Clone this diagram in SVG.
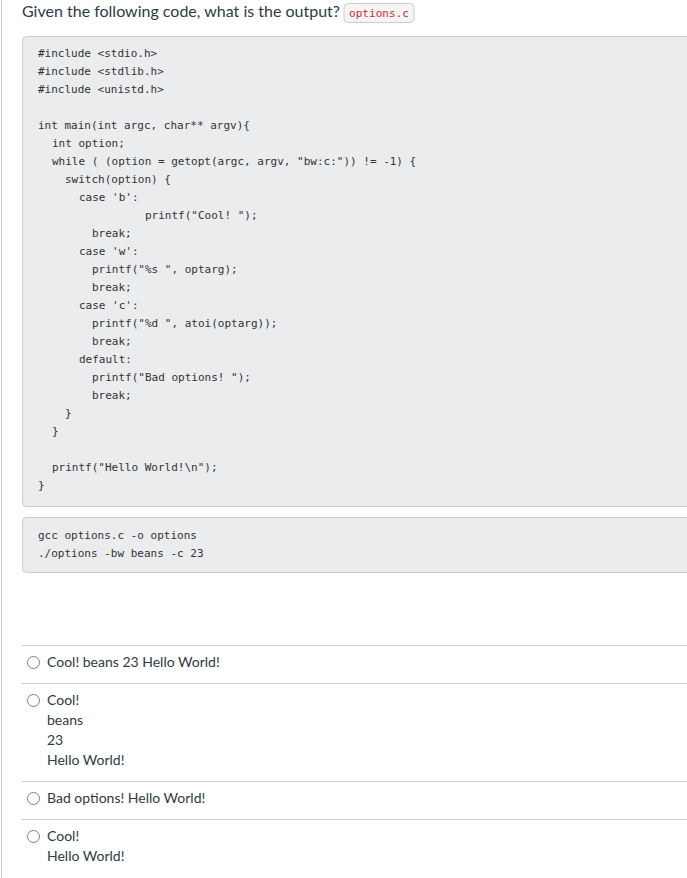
<svg xmlns="http://www.w3.org/2000/svg" width="687" height="878" viewBox="0 0 687 878">
<style>
.t{font-family:Lato,"Open Sans",sans-serif;fill:#2d3b45}
.c{font-family:"DejaVu Sans Mono","Liberation Mono",monospace;font-size:11px;fill:#333}
.box{fill:#ebeced;stroke:#c7cdd1;stroke-width:1}
.sep{stroke:#c7cdd1;stroke-width:1}
.r{fill:#fff;stroke:#73818b;stroke-width:1}
</style>
<rect width="687" height="878" fill="#fff"/>
<line x1="1.5" y1="0" x2="1.5" y2="878" stroke="#c7cdd1"/>
<text class="t" x="22" y="17" font-size="16">Given the following code, what is the output?</text>
<rect x="344" y="3.5" width="70" height="19" rx="4" fill="#f5f5f5" stroke="#c7cdd1"/>
<text x="349" y="17" font-family="DejaVu Sans Mono,monospace" font-size="10" fill="#d52b1e" textLength="60" lengthAdjust="spacingAndGlyphs">options.c</text>
<rect class="box" x="22.5" y="36.5" width="680" height="470" rx="4"/>
<g class="c" xml:space="preserve">
<text x="38" y="57">#include &lt;stdio.h&gt;</text>
<text x="38" y="75">#include &lt;stdlib.h&gt;</text>
<text x="38" y="93">#include &lt;unistd.h&gt;</text>
<text x="38" y="129">int main(int argc, char** argv){</text>
<text x="52" y="147">int option;</text>
<text x="52" y="165">while ( (option = getopt(argc, argv, "bw:c:")) != -1) {</text>
<text x="65" y="183">switch(option) {</text>
<text x="79" y="201">case 'b':</text>
<text x="145" y="219">printf("Cool! ");</text>
<text x="92" y="237">break;</text>
<text x="79" y="255">case 'w':</text>
<text x="92" y="273">printf("%s ", optarg);</text>
<text x="92" y="291">break;</text>
<text x="79" y="309">case 'c':</text>
<text x="92" y="327">printf("%d ", atoi(optarg));</text>
<text x="92" y="345">break;</text>
<text x="79" y="363">default:</text>
<text x="92" y="381">printf("Bad options! ");</text>
<text x="92" y="399">break;</text>
<text x="65" y="417">}</text>
<text x="52" y="435">}</text>
<text x="52" y="471">printf("Hello World!\n");</text>
<text x="38" y="489">}</text>
</g>
<rect class="box" x="22.5" y="517.5" width="680" height="55" rx="4"/>
<g class="c" xml:space="preserve">
<text x="38" y="539">gcc options.c -o options</text>
<text x="38" y="557">./options  -bw beans -c 23</text>
</g>
<g>
<line class="sep" x1="22" y1="645.5" x2="687" y2="645.5"/>
<line class="sep" x1="22" y1="683.5" x2="687" y2="683.5"/>
<line class="sep" x1="22" y1="781.5" x2="687" y2="781.5"/>
<line class="sep" x1="22" y1="819.5" x2="687" y2="819.5"/>
</g>
<g class="t" font-size="14">
<circle class="r" cx="33.5" cy="662.5" r="6"/>
<text x="47" y="667">Cool! beans 23 Hello World!</text>
<circle class="r" cx="33.5" cy="700.5" r="6"/>
<text x="47" y="705">Cool!</text>
<text x="47" y="725">beans</text>
<text x="47" y="745">23</text>
<text x="47" y="765">Hello World!</text>
<circle class="r" cx="33.5" cy="798.5" r="6"/>
<text x="47" y="803">Bad options! Hello World!</text>
<circle class="r" cx="33.5" cy="836.5" r="6"/>
<text x="47" y="841">Cool!</text>
<text x="47" y="861">Hello World!</text>
</g>
</svg>
